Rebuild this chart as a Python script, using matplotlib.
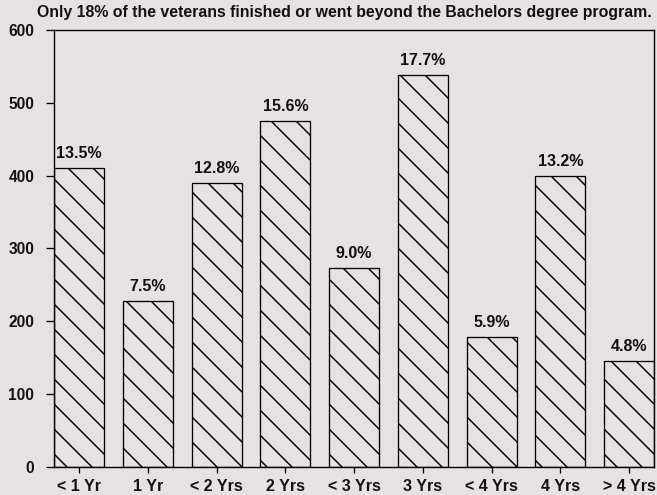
import matplotlib
matplotlib.use("Agg")
import matplotlib.pyplot as plt

categories = ["< 1 Yr", "1 Yr", "< 2 Yrs", "2 Yrs", "< 3 Yrs", "3 Yrs", "< 4 Yrs", "4 Yrs", "> 4 Yrs"]
counts = [411, 228, 390, 475, 273, 538, 178, 400, 146]
percent_labels = ["13.5%", "7.5%", "12.8%", "15.6%", "9.0%", "17.7%", "5.9%", "13.2%", "4.8%"]
y_ticks = [0, 100, 200, 300, 400, 500, 600]
title = "Only 18% of the veterans finished or went beyond the Bachelors degree program."

DPI = 150
W, H = 657, 495
def px(v):  # pixels -> points
    return v * 72.0 / DPI

bg = "#e6e1e3"
plt.rcParams["font.family"] = ["Liberation Sans", "DejaVu Sans"]
plt.rcParams["font.weight"] = "bold"
plt.rcParams["hatch.linewidth"] = 0.7
plt.rcParams["hatch.color"] = "black"

fig = plt.figure(figsize=(W / DPI, H / DPI), dpi=DPI, facecolor=bg)
ax = fig.add_axes([54.3 / W, 1 - 467 / H, (654 - 54.3) / W, (467 - 30) / H])
ax.set_facecolor(bg)

x = list(range(len(categories)))
bars = ax.bar(x, counts, width=0.727, facecolor=bg, edgecolor="black",
              linewidth=px(1.3), hatch="\\\\")

for xi, c, lab in zip(x, counts, percent_labels):
    ax.annotate(lab, (xi, c), xytext=(0, px(7)), textcoords="offset points",
                ha="center", va="bottom", fontsize=px(16), color="#111111",
                fontweight="bold")

ax.set_xlim(-0.3635, len(categories) - 1 + 0.363)
ax.set_ylim(0, 600)
ax.set_yticks(y_ticks)
ax.set_yticklabels([str(v) for v in y_ticks])
ax.set_xticks(x)
ax.set_xticklabels(categories, fontweight="bold")

ax.tick_params(axis="y", direction="out", length=px(8), width=px(1.3),
               pad=px(12), labelsize=px(15.5), labelcolor="#111111")
ax.tick_params(axis="x", direction="out", length=px(6), width=px(1.3),
               pad=px(6), labelsize=px(16), labelcolor="#111111")
for lab in ax.get_yticklabels():
    lab.set_fontweight("bold")
for s in ax.spines.values():
    s.set_linewidth(px(1.4))
    s.set_color("black")

fig.text(344.5 / W, 1 - 12 / H, title, ha="center", va="center",
         fontsize=px(15.9), color="#111111", fontweight="bold")

fig.savefig("out.png", dpi=DPI, facecolor=bg)
